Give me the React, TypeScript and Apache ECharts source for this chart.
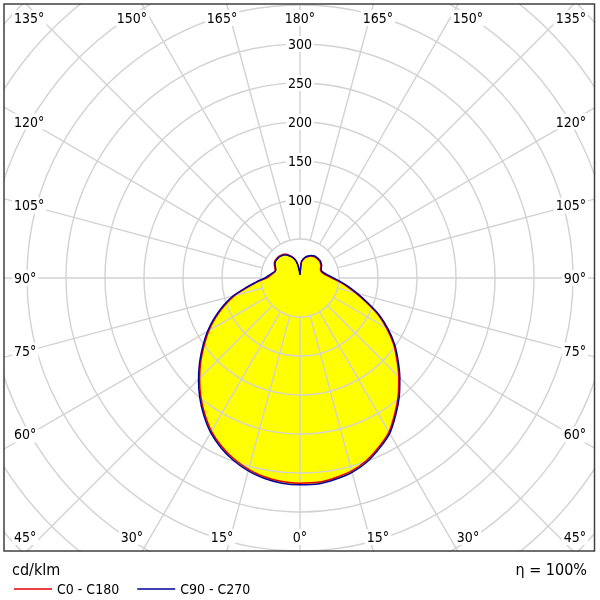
import React, { useEffect, useRef } from "react";
import * as echarts from "echarts";

// Polar angles (gamma, 0 = straight down, 180 = straight up), step 5°
const GAMMA = [0, 5, 10, 15, 20, 25, 30, 35, 40, 45, 50, 55, 60, 65, 70, 75, 80, 85, 90, 95, 100, 105, 110, 115, 120, 125, 130, 135, 140, 145, 150, 155, 160, 165, 170, 175, 180];

// Luminous intensity, cd/klm
const C0 = [263, 263, 260, 256, 249, 239, 228, 212, 196, 179, 162, 146, 128, 110, 90, 74, 61, 50, 41, 35, 31, 29, 28, 29, 31, 32, 33, 33, 33, 33, 32, 31, 29, 27, 24, 20, 4];
const C180 = [262, 262, 259, 254, 247, 238, 227, 213, 198, 182, 166, 150, 135, 119, 103, 87, 68, 54, 43, 38, 35, 33, 34, 36, 38, 39, 39, 39, 38, 37, 35, 32, 29, 25, 19, 10, 4];
const C90 = [265, 265, 262, 258, 251, 241, 230, 214, 198, 181, 164, 148, 130, 112, 92, 76, 63, 52, 43, 37, 33, 30, 29, 30, 32, 33, 34, 34, 34, 34, 33, 32, 30, 28, 25, 21, 4];
const C270 = [264, 264, 261, 256, 249, 240, 229, 215, 200, 184, 168, 152, 137, 121, 105, 89, 70, 56, 45, 40, 36, 33, 33, 35, 37, 38, 38, 38, 37, 36, 34, 31, 28, 24, 18, 9, 4];

const SERIES_NAMES = ["C0 - C180", "C90 - C270"];
const SERIES_COLORS = ["#e00000", "#00009c"];
const RADIUS_LABELS = [100, 150, 200, 250, 300];
const ANGLE_LABELS = [0, 15, 30, 45, 60, 75, 90, 105, 120, 135, 150, 165, 180];
const UNIT = "cd/klm";
const EFFICIENCY = "\u03b7 = 100%";

const FONT = "'DejaVu Sans Condensed', 'Liberation Sans', sans-serif";
const CX = 300;
const CY = 278;
const K = 0.78; // px per cd/klm
const R_MIN = 50;
const R_MAX = 550;

function loop(right: number[], left: number[]) {
  const pts: number[][] = [];
  for (let i = GAMMA.length - 1; i >= 0; i--) pts.push([right[i], 180 - GAMMA[i]]);
  for (let i = 1; i < GAMMA.length; i++) pts.push([left[i], 180 + GAMMA[i]]);
  return pts;
}

const rad = (d: number) => (d * Math.PI) / 180;

function angleLabel(g: number, s: number) {
  let x: number, y: number, align = "center";
  if (g < 45) {
    x = CX + s * 291 * Math.tan(rad(g));
    y = 537;
  } else if (g > 135) {
    x = CX + s * 291 * Math.tan(rad(180 - g));
    y = 18;
  } else {
    x = s < 0 ? 12 : 588;
    align = s < 0 ? "left" : "right";
    y = g === 45 ? 537 : g === 135 ? 18 : CY + 271 * Math.tan(rad(90 - g));
  }
  return {
    type: "text",
    z: 10,
    x,
    y,
    style: {
      text: g + "\u00b0",
      fill: "#000",
      fontSize: 14,
      fontFamily: FONT,
      align,
      verticalAlign: "middle",
      backgroundColor: "#fff",
      padding: [1, 2],
    },
  };
}

const hiddenAxis = {
  axisLine: { show: false },
  axisTick: { show: false },
  axisLabel: { show: false },
  splitLine: { show: false },
};

export default function App() {
  const ref = useRef<HTMLDivElement>(null);
  useEffect(() => {
    if (!ref.current) return;
    const chart = echarts.init(ref.current, undefined, { renderer: "svg" });
    const loops = [loop(C0, C180), loop(C90, C270)];

    const graphic: any[] = [
      { type: "rect", z: 3, shape: { x: 0, y: 552, width: 600, height: 48 }, style: { fill: "#fff" } },
      { type: "rect", z: 3, shape: { x: 0, y: 0, width: 4, height: 600 }, style: { fill: "#fff" } },
      { type: "rect", z: 3, shape: { x: 0, y: 0, width: 600, height: 4 }, style: { fill: "#fff" } },
      { type: "rect", z: 3, shape: { x: 595, y: 0, width: 5, height: 600 }, style: { fill: "#fff" } },
      {
        type: "rect",
        z: 11,
        shape: { x: 4, y: 4, width: 590.5, height: 547 },
        style: { fill: "none", stroke: "#404040", lineWidth: 1.5 },
      },
      {
        type: "text",
        z: 11,
        x: 12,
        y: 569,
        style: { text: UNIT, fill: "#000", fontSize: 16, fontFamily: FONT, verticalAlign: "middle" },
      },
      {
        type: "text",
        z: 11,
        x: 587,
        y: 569,
        style: { text: EFFICIENCY, fill: "#000", fontSize: 16, fontFamily: FONT, align: "right", verticalAlign: "middle" },
      },
    ];
    RADIUS_LABELS.forEach((v) => {
      graphic.push({
        type: "text",
        z: 10,
        x: CX,
        y: CY - v * K,
        style: {
          text: String(v),
          fill: "#000",
          fontSize: 14,
          fontFamily: FONT,
          align: "center",
          verticalAlign: "middle",
          backgroundColor: "#fff",
          padding: [1, 2],
        },
      });
    });
    ANGLE_LABELS.forEach((g) => {
      if (g === 0 || g === 180) graphic.push(angleLabel(g, 0));
      else {
        graphic.push(angleLabel(g, -1));
        graphic.push(angleLabel(g, 1));
      }
    });

    chart.setOption({
      animation: false,
      polar: [
        { center: [CX, CY], radius: [R_MIN * K, R_MAX * K] },
        { center: [CX, CY], radius: [0, R_MAX * K] },
      ],
      angleAxis: [
        {
          polarIndex: 0,
          type: "value",
          min: 0,
          max: 360,
          interval: 15,
          startAngle: 90,
          clockwise: true,
          z: 2,
          axisLine: { show: false },
          axisTick: { show: false },
          axisLabel: { show: false },
          splitLine: { show: true, lineStyle: { color: "#d2d2d2", width: 1.4 } },
        },
        {
          polarIndex: 1,
          type: "value",
          min: 0,
          max: 360,
          interval: 15,
          startAngle: 90,
          clockwise: true,
          ...hiddenAxis,
        },
      ],
      radiusAxis: [
        {
          polarIndex: 0,
          type: "value",
          min: R_MIN,
          max: R_MAX,
          interval: 50,
          z: 2,
          axisLine: { show: false },
          axisTick: { show: false },
          axisLabel: { show: false },
          splitLine: { show: true, lineStyle: { color: "#d2d2d2", width: 1.4 } },
        },
        {
          polarIndex: 1,
          type: "value",
          min: 0,
          max: R_MAX,
          interval: 50,
          ...hiddenAxis,
        },
      ],
      legend: {
        data: SERIES_NAMES,
        left: 9,
        top: 577,
        z: 12,
        icon: "rect",
        itemWidth: 38,
        itemHeight: 1.5,
        itemGap: 18,
        selectedMode: false,
        textStyle: { fontSize: 14, fontFamily: FONT, color: "#000" },
      },
      graphic,
      series: [
        ...loops.map((d) => ({
          type: "line",
          coordinateSystem: "polar",
          polarIndex: 1,
          data: d,
          z: 1,
          silent: true,
          symbol: "none",
          smooth: 0.25,
          lineStyle: { width: 0, opacity: 0 },
          areaStyle: { color: "#ffff00", opacity: 1, origin: 0 },
        })),
        ...loops.map((d, i) => ({
          type: "line",
          name: SERIES_NAMES[i],
          coordinateSystem: "polar",
          polarIndex: 1,
          data: d,
          z: 5,
          symbol: "none",
          smooth: 0.25,
          color: SERIES_COLORS[i],
          itemStyle: { color: SERIES_COLORS[i] },
          lineStyle: { width: 1.5, color: SERIES_COLORS[i] },
        })),
      ],
    });
    return () => chart.dispose();
  }, []);
  return <div ref={ref} style={{ position: "fixed", left: 0, top: 0, width: 600, height: 600 }} />;
}
